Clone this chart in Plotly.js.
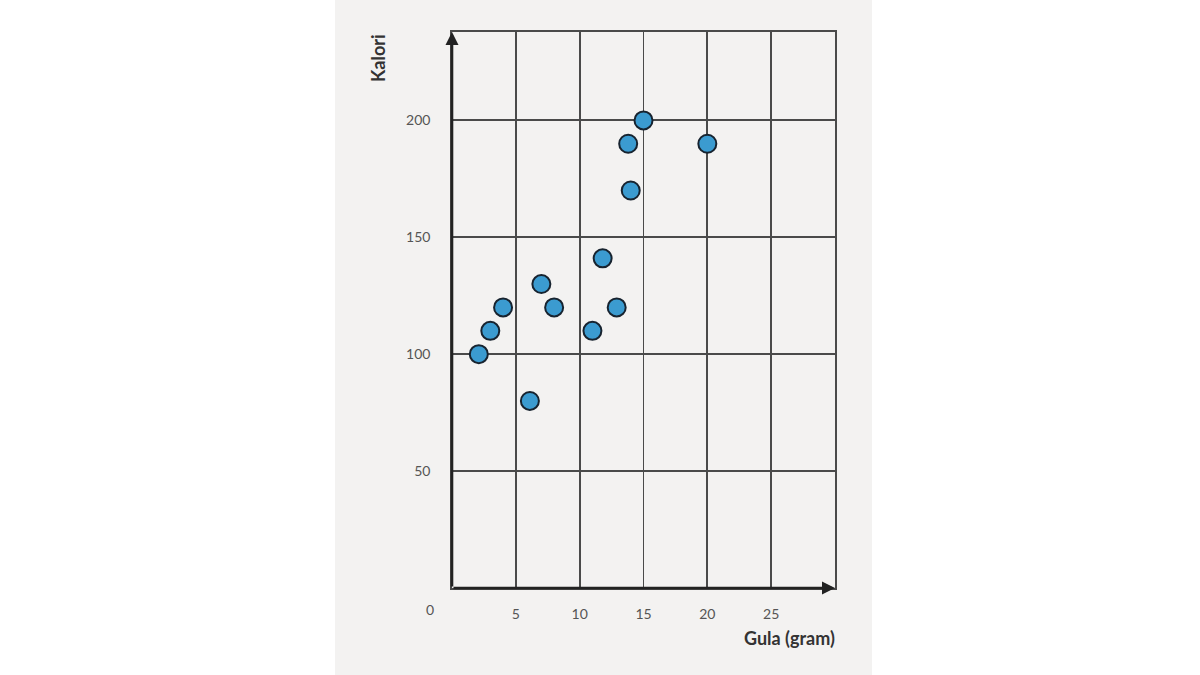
<!DOCTYPE html>
<html>
<head>
<meta charset="utf-8">
<script src="https://cdn.plot.ly/plotly-3.0.1.min.js"></script>
<style>html,body{margin:0;padding:0;background:#fff;}#chart{width:1200px;height:675px;}</style>
</head>
<body>
<div id="chart"></div>
<script>
const sugar = [15, 13.8, 20, 14, 11.8, 7, 4, 8, 12.9, 3, 11, 2.1, 6.1];
const calories = [200, 190, 190, 170, 141, 130, 120, 120, 120, 110, 110, 100, 80];
const xTicks = [5, 10, 15, 20, 25];
const yTicks = [50, 100, 150, 200];
const xTitle = 'Gula (gram)';
const yTitle = 'Kalori';
const originLabel = '0';

const L = 452, R = 835, T = 32, B = 588;
const W = R - L, H = B - T;
const px = v => (v - L) / W;
const py = v => (B - v) / H;
const gridC = '#4a4a4a';
const axisC = '#222222';
const tickFont = {family: 'Lato, sans-serif', size: 14, color: '#555'};

const trace = {
  x: sugar, y: calories, type: 'scatter', mode: 'markers',
  marker: {size: 18, color: '#3b9bd0', line: {color: '#17232f', width: 2}},
  hoverinfo: 'x+y'
};

const layout = {
  width: 1200, height: 675,
  margin: {l: L, r: 1200 - R, t: T, b: 675 - B, pad: 0},
  paper_bgcolor: '#ffffff', plot_bgcolor: '#f3f2f1',
  showlegend: false,
  font: {family: 'Lato, sans-serif', size: 14, color: '#555'},
  xaxis: {
    range: [0, 30], tickvals: xTicks, ticktext: xTicks.map(String),
    showgrid: true, gridcolor: gridC, gridwidth: 1.8,
    zeroline: false, showline: true, mirror: true, linecolor: gridC, linewidth: 1.8,
    ticks: '', ticklabelstandoff: 12, tickfont: tickFont
  },
  yaxis: {
    range: [0, 237.8], tickvals: yTicks, ticktext: yTicks.map(String),
    showgrid: true, gridcolor: gridC, gridwidth: 1.8,
    zeroline: false, showline: true, mirror: true, linecolor: gridC, linewidth: 1.8,
    ticks: '', ticklabelstandoff: 17, tickfont: tickFont
  },
  shapes: [{
    type: 'rect', xref: 'paper', yref: 'paper', layer: 'below',
    x0: px(335), x1: px(872), y0: py(680), y1: py(-5),
    fillcolor: '#f3f2f1', line: {width: 0}
  }],
  annotations: [
    {xref: 'paper', yref: 'paper', x: 0, y: 1, ax: 0, ay: H,
     text: '', showarrow: true, arrowhead: 2, arrowsize: 1, arrowwidth: 2.6, arrowcolor: axisC},
    {xref: 'paper', yref: 'paper', x: 1, y: 0, ax: -W, ay: 0,
     text: '', showarrow: true, arrowhead: 2, arrowsize: 1, arrowwidth: 2.6, arrowcolor: axisC},
    {xref: 'paper', yref: 'paper', x: px(430), y: py(609), xanchor: 'center', yanchor: 'middle',
     text: originLabel, showarrow: false, font: tickFont},
    {xref: 'paper', yref: 'paper', x: px(378), y: py(58), xanchor: 'center', yanchor: 'middle',
     text: '<b>' + yTitle + '</b>', textangle: -90, showarrow: false,
     font: {family: 'Lato, sans-serif', size: 18, color: '#333'}},
    {xref: 'paper', yref: 'paper', x: px(837), y: py(638), xanchor: 'right', yanchor: 'middle',
     text: '<b>' + xTitle + '</b>', showarrow: false,
     font: {family: 'Lato, sans-serif', size: 18, color: '#333'}}
  ]
};

Plotly.newPlot('chart', [trace], layout, {displayModeBar: false, staticPlot: true});
</script>
</body>
</html>
